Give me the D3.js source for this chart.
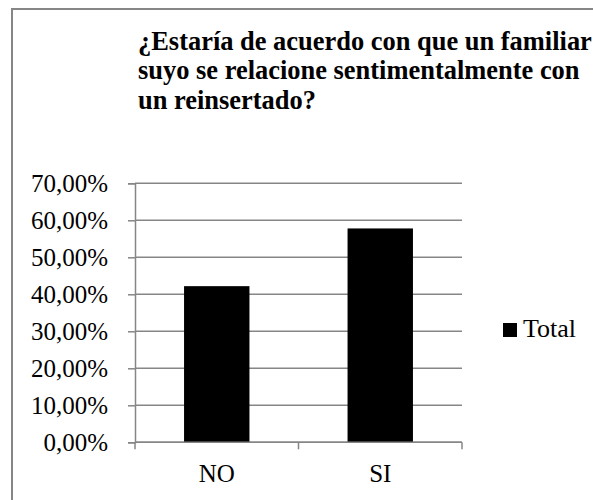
<!DOCTYPE html>
<html>
<head>
<meta charset="utf-8">
<script src="https://cdn.jsdelivr.net/npm/d3@7"></script>
<style>
  body { margin: 0; background: #fff; }
</style>
</head>
<body>
<div id="main"></div>
<script>

// chart data
var categories = ["NO", "SI"];
var values = [0.422, 0.578];
var seriesName = "Total";
var yTicks = [0, 0.1, 0.2, 0.3, 0.4, 0.5, 0.6, 0.7];
var titleLines = [
  "¿Estaría de acuerdo con que un familiar",
  "suyo se relacione sentimentalmente con",
  "un reinsertado?"
];

//Width and height
var w = 593;
var h = 500;
var plot = { left: 135, right: 462, top: 183.3, bottom: 442.3 };
var grey = "#868686";
var serif = "'Liberation Serif', 'Times New Roman', Times, serif";

window.onload = function () {

  var svg = d3.select("#main").append("svg")
      .attr("width", w)
      .attr("height", h)
      .style("font-family", serif);

  // outer chart frame (runs off the right and bottom edge)
  svg.append("rect")
      .attr("x", 12)
      .attr("y", 9)
      .attr("width", 700)
      .attr("height", 700)
      .attr("fill", "none")
      .attr("stroke", grey)
      .attr("stroke-width", 2);

  // title
  var title = svg.append("text")
      .style("font-family", serif)
      .style("font-weight", "bold")
      .style("font-size", "26.5px");
  title.selectAll("tspan")
      .data(titleLines)
      .enter()
      .append("tspan")
      .attr("x", 138)
      .attr("y", function(d, i) { return 49.5 + i * 29.5; })
      .text(function(d) { return d; });
  // fit first line to the width seen in the chart (138 -> 592)
  var tw = title.select("tspan").node().getComputedTextLength();
  title.style("font-size", (26.5 * 454 / tw) + "px");

  var x = d3.scaleBand()
      .domain(categories)
      .range([plot.left, plot.right])
      .padding(0);

  var y = d3.scaleLinear()
      .domain([0, 0.7])
      .range([plot.bottom, plot.top]);

  // gridlines
  svg.append("g")
      .selectAll("line")
      .data(yTicks)
      .enter()
      .append("line")
      .attr("x1", plot.left)
      .attr("x2", plot.right)
      .attr("y1", function(d) { return y(d); })
      .attr("y2", function(d) { return y(d); })
      .attr("stroke", grey)
      .attr("stroke-width", 1.5);

  // y axis
  var fmt = function(d) { return d3.format(".2f")(d * 100).replace(".", ",") + "%"; };
  var yAxis = svg.append("g")
      .attr("transform", "translate(" + plot.left + ",0)")
      .call(d3.axisLeft(y).tickValues(yTicks).tickFormat(fmt).tickSize(7).tickPadding(20));
  yAxis.select(".domain").attr("stroke", grey).attr("stroke-width", 1.5);
  yAxis.selectAll(".tick line").attr("stroke", grey).attr("stroke-width", 1.5);
  yAxis.selectAll(".tick text")
      .style("font-family", serif)
      .style("font-size", "25px")
      .attr("fill", "#000")
      .attr("dy", "0.34em");

  // bars
  var barW = x.bandwidth() * 0.4;
  svg.selectAll("rect.bar")
      .data(values)
      .enter()
      .append("rect")
      .attr("class", "bar")
      .attr("x", function(d, i) { return x(categories[i]) + (x.bandwidth() - barW) / 2; })
      .attr("y", function(d) { return y(d); })
      .attr("width", barW)
      .attr("height", function(d) { return plot.bottom - y(d); })
      .attr("fill", "#000");

  // x axis: boundary ticks between categories
  var xAxis = svg.append("g")
      .attr("transform", "translate(0," + plot.bottom + ")");
  xAxis.append("line")
      .attr("x1", plot.left)
      .attr("x2", plot.right)
      .attr("stroke", grey)
      .attr("stroke-width", 1.5);
  var bounds = categories.map(function(c) { return x(c); }).concat([plot.right]);
  xAxis.selectAll("line.tick")
      .data(bounds)
      .enter()
      .append("line")
      .attr("class", "tick")
      .attr("x1", function(d) { return d; })
      .attr("x2", function(d) { return d; })
      .attr("y1", 0)
      .attr("y2", 7)
      .attr("stroke", grey)
      .attr("stroke-width", 1.5);
  xAxis.selectAll("text")
      .data(categories)
      .enter()
      .append("text")
      .attr("x", function(d) { return x(d) + x.bandwidth() / 2; })
      .attr("y", 40)
      .attr("text-anchor", "middle")
      .style("font-size", "25px")
      .text(function(d) { return d; });

  // legend
  var legend = svg.append("g").attr("transform", "translate(503,323)");
  legend.append("rect")
      .attr("width", 14)
      .attr("height", 14)
      .attr("fill", "#000");
  legend.append("text")
      .attr("x", 20)
      .attr("y", 14)
      .style("font-size", "26px")
      .text(seriesName);
}
</script>
</body>
</html>
